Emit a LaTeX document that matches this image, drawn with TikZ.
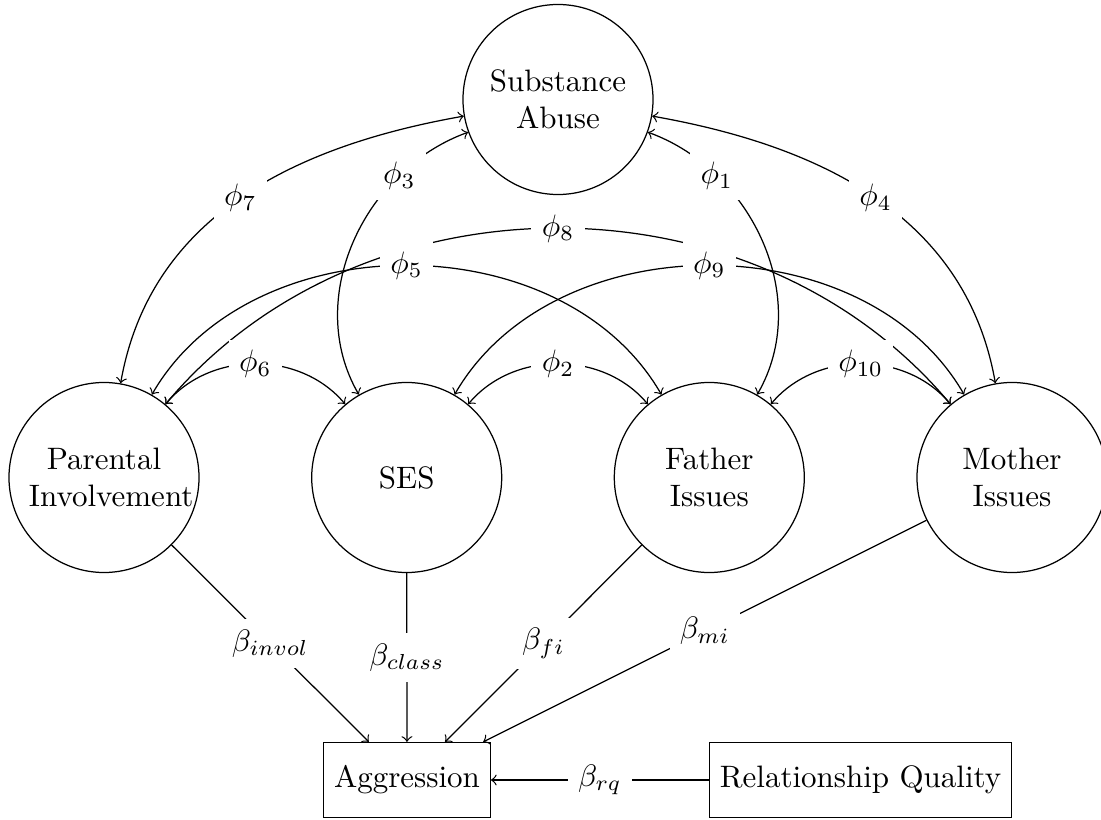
\documentclass[tikz,border=0pt]{standalone}
\begin{document}
\begin{tikzpicture}[x=0.32258pt,y=0.32258pt,
  latent/.style={draw, circle, minimum size=61.3pt, inner sep=3.33pt, text width=48.4pt, align=center},
  obs/.style={draw, rectangle, minimum height=24.2pt, inner sep=3.33pt},
  lbl/.style={fill=white},
  cov/.style={<->},
  reg/.style={->}]
\useasboundingbox (0,0) rectangle (1101,-820);
\node[latent] (SA) at (558,-99.5) {Substance\\Abuse};
\node[latent] (PI) at (104,-477.5) {Parental\\Involvement};
\node[latent] (SES) at (406.7,-477.5) {SES};
\node[latent] (FI) at (709.3,-477.5) {Father\\Issues};
\node[latent] (MI) at (1012,-477.5) {Mother\\Issues};
\node[obs] (AG) at (407,-780) {Aggression};
\node[obs] (RQ) at (860.5,-780) {Relationship Quality};
% covariances
\draw[cov] (PI) to[out=50,in=130] node[lbl]{$\phi_8$} (MI);
\draw[cov] (PI) to[out=60,in=120] node[lbl]{$\phi_5$} (FI);
\draw[cov] (SES) to[out=60,in=120] node[lbl]{$\phi_9$} (MI);
\draw[cov] (SA) to[out=190,in=80] node[lbl]{$\phi_7$} (PI);
\draw[cov] (SA) to[out=200,in=120] node[lbl,near start]{$\phi_3$} (SES);
\draw[cov] (SA) to[out=-20,in=60] node[lbl,near start]{$\phi_1$} (FI);
\draw[cov] (SA) to[out=-10,in=100] node[lbl]{$\phi_4$} (MI);
\draw[cov] (PI) to[out=50,in=130] node[lbl]{$\phi_6$} (SES);
\draw[cov] (SES) to[out=50,in=130] node[lbl]{$\phi_2$} (FI);
\draw[cov] (FI) to[out=50,in=130] node[lbl]{$\phi_{10}$} (MI);
% regressions
\draw[reg] (PI) -- node[lbl]{$\beta_{invol}$} (AG);
\draw[reg] (SES) -- node[lbl]{$\beta_{class}$} (AG);
\draw[reg] (FI) -- node[lbl]{$\beta_{fi}$} (AG);
\draw[reg] (MI) -- node[lbl]{$\beta_{mi}$} (AG);
\draw[reg] (RQ) -- node[lbl]{$\beta_{rq}$} (AG);
\end{tikzpicture}
\end{document}
